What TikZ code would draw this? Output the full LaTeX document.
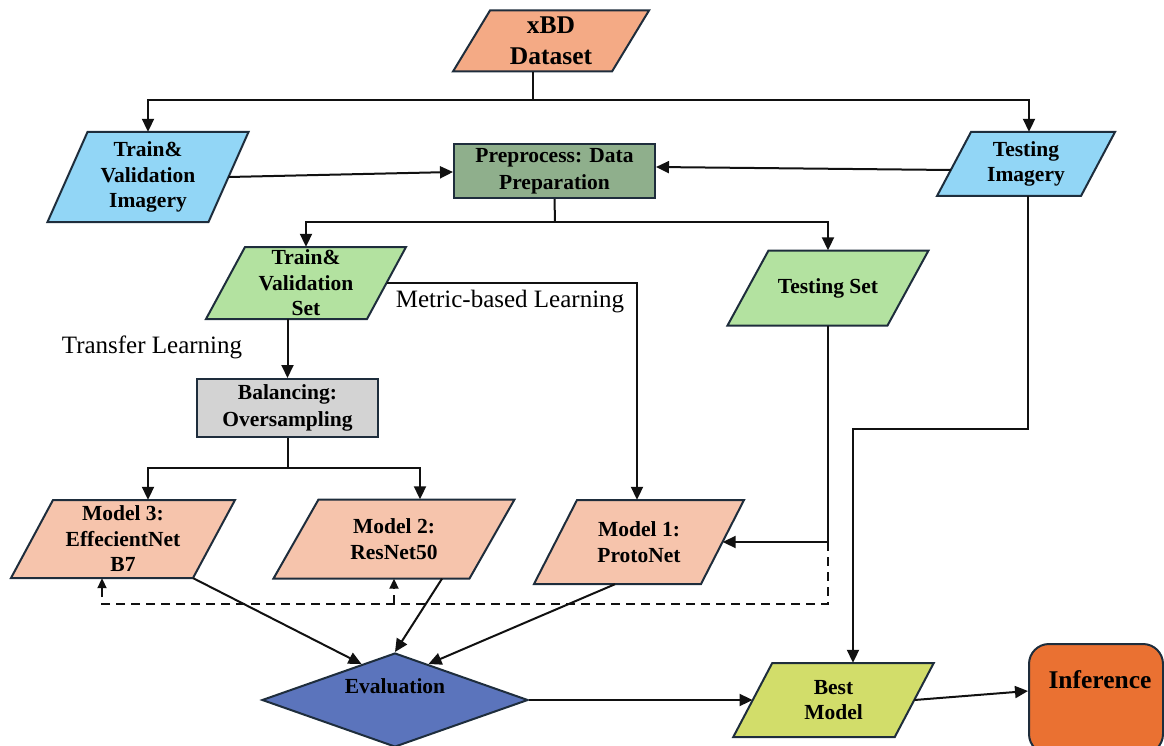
\documentclass[tikz,border=0pt]{standalone}
\usepackage{fontspec}
\setmainfont{Liberation Serif}
\usetikzlibrary{arrows.meta,calc,shapes.geometric}
\definecolor{cxbd}{HTML}{F4AA85}
\definecolor{cmod}{HTML}{F6C4AC}
\definecolor{cblue}{HTML}{92D6F6}
\definecolor{cgreen}{HTML}{B3E2A0}
\definecolor{cpre}{HTML}{8FAF8C}
\definecolor{cbal}{HTML}{D3D3D3}
\definecolor{ceval}{HTML}{5B74BC}
\definecolor{cbest}{HTML}{D2DD6A}
\definecolor{cinf}{HTML}{EA7132}
\definecolor{cedge}{HTML}{1E2D3C}
\definecolor{cline}{HTML}{111111}
% #1 extra node options, #2 name, #3 cx, #4 cy, #5 width, #6 height, #7 slant, #8 fill, #9 text
\newcommand{\pgram}[9][]{%
  \path[pgline,fill=#8] ({#3-#5/2+#7/2},{#4-#6/2}) -- ({#3+#5/2+#7/2},{#4-#6/2})
    -- ({#3+#5/2-#7/2},{#4+#6/2}) -- ({#3-#5/2-#7/2},{#4+#6/2}) -- cycle;
  \node[txt,minimum width=#5pt,minimum height=#6pt,#1] (#2) at (#3,#4) {#9};
}
\begin{document}
\begin{tikzpicture}[x=1pt,y=-1pt,
  pgline/.style={draw=cedge,line width=2pt},
  txt/.style={inner sep=0pt,align=center,font=\bfseries\fontsize{21.5}{25.5}\selectfont},
  rbox/.style={draw=cedge,line width=2pt,inner sep=0pt,align=center,font=\bfseries\fontsize{21.5}{26.5}\selectfont},
  lbl/.style={inner sep=0pt,font=\fontsize{25}{29}\selectfont},
  conn/.style={draw=cline,line width=2pt},
  arr/.style={conn,-{Triangle[length=13pt,width=12pt]}},
  darr/.style={conn,dash pattern=on 9pt off 6pt,-{Triangle[length=10pt,width=9pt]}}
]
\useasboundingbox (0,0) rectangle (1164,746);
\clip (0,0) rectangle (1164,746);

% shapes
\pgram[font=\bfseries\fontsize{25.5}{31}\selectfont]{xbd}{551}{41}{159}{61}{37}{cxbd}{xBD\\Dataset}
\pgram{tvi}{148}{177}{161}{90}{40}{cblue}{Train\&\\Validation\\Imagery}
\pgram{ti}{1026}{164}{144}{64}{34}{cblue}{Testing\\Imagery}
\node[rbox,fill=cpre,minimum width=201pt,minimum height=54pt] (pp) at (554.5,171) {Preprocess: Data\\Preparation};
\pgram{tvs}{306}{283}{161}{72}{39}{cgreen}{Train\&\\Validation\\Set}
\pgram{ts}{828}{288}{160}{75}{41}{cgreen}{Testing Set}
\node[rbox,fill=cbal,minimum width=181pt,minimum height=58pt] (bal) at (287.5,408) {Balancing:\\Oversampling};
\pgram{m3}{123}{539}{182}{78}{42}{cmod}{Model 3:\\EffecientNet\\B7}
\pgram{m2}{394}{539}{196}{79}{45}{cmod}{Model 2:\\ResNet50}
\pgram{m1}{639}{542}{167}{84}{43}{cmod}{Model 1:\\ProtoNet}
\node[diamond,draw=cedge,line width=2pt,fill=ceval,minimum width=266pt,minimum height=94pt,inner sep=0pt] (ev) at (395,700) {};
\node[txt] (evtxt) at (395,686) {Evaluation};
\pgram{bm}{833.5}{700}{161.5}{74}{39}{cbest}{Best\\Model}
\node[draw=cedge,line width=2pt,fill=cinf,rounded corners=20pt,minimum width=134pt,minimum height=110pt,anchor=north west,inner sep=0pt] (inf) at (1028,643) {};
\node[txt,font=\bfseries\fontsize{25.5}{30}\selectfont] (inftxt) at (1100,680) {Inference};

% labels
\node[lbl] (ml) at (510,302) {Metric-based Learning};
\node[lbl] (tl) at (152,347) {Transfer Learning};

% connectors
\coordinate (j1) at (533,100);
\draw[conn] ($(xbd.south)+(-18,0)$) -- (j1);
\draw[arr] (j1) -| (tvi.north);
\draw[arr] (j1) -| ($(ti.north)+(3,0)$);
\draw[arr] (tvi.east) -- ($(pp.west)+(0,1)$);
\draw[arr] ($(ti.west)+(-3,6)$) -- ($(pp.east)+(0,-4)$);
\coordinate (j2) at (555,222);
\draw[conn] (pp.south) -- (j2);
\draw[arr] (j2) -| (tvs.north);
\draw[arr] (j2) -| (ts.north);
\draw[arr] (bal.north |- tvs.south) -- (bal.north);
\draw[arr] (tvs.east) -| ($(m1.north)+(-2,0)$);
\coordinate (j3) at (287.5,468);
\draw[conn] (bal.south) -- (j3);
\draw[arr] (j3) -| ($(m3.north)+(25,0)$);
\draw[arr] (j3) -| ($(m2.north)+(26,0)$);
\coordinate (j4) at (ts.south |- m1.east);
\draw[arr] (ts.south) -- (j4) -- (m1.east);
\coordinate (d1) at ($(j4)+(0,62)$);
\draw[darr] (j4) -- (d1) -| ($(m3.south)+(-21,0)$);
\draw[darr] (d1 -| m2.south) -- (m2.south);
\draw[arr] ($(m3.south east)+(-21,0)$) -- ($(ev.west)!0.75!(ev.north)$);
\draw[arr] ($(m2.south)+(48,0)$) -- (ev.north);
\draw[arr] ($(m1.south)+(-24,0)$) -- ($(ev.north)!0.25!(ev.east)$);
\draw[arr] (ev.east) -- (bm.west);
\coordinate (j5) at ($(ti.south)+(2,233)$);
\draw[arr] ($(ti.south)+(2,0)$) -- (j5) -| ($(bm.north)+(19.5,0)$);
\draw[arr] (bm.east) -- ($(inf.west)+(0,-8)$);
\end{tikzpicture}
\end{document}
